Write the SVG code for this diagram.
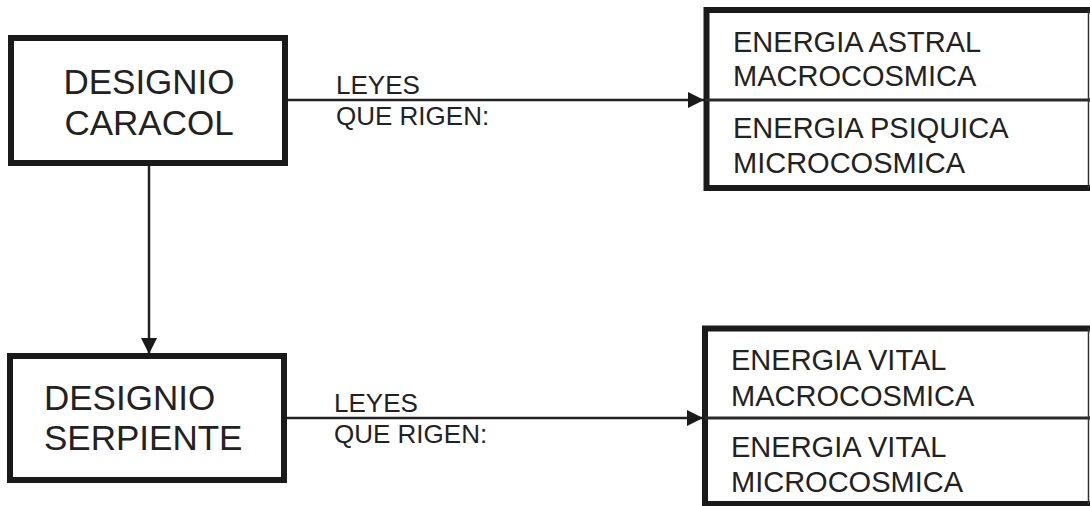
<svg xmlns="http://www.w3.org/2000/svg" width="1090" height="506" viewBox="0 0 1090 506">
<style>
.box{fill:#fff;stroke:#1a1a1a;stroke-width:6}
.div{stroke:#2a2a2a;stroke-width:3}
.edge{stroke:#333;stroke-width:1.5}
.conn{stroke:#222;stroke-width:2.5;fill:none}
.big{font-family:"Liberation Sans",Arial,sans-serif;font-size:35px;fill:#222}
.lbl{font-family:"Liberation Sans",Arial,sans-serif;font-size:26px;fill:#222}
.mid{font-family:"Liberation Sans",Arial,sans-serif;font-size:29px;fill:#222}
</style>
<defs>
<marker id="arr" markerUnits="userSpaceOnUse" markerWidth="16" markerHeight="16" refX="16" refY="8" orient="auto">
<path d="M0,0 L16,8 L0,16 Z" fill="#1a1a1a"/>
</marker>
</defs>
<rect width="1090" height="506" fill="#fff"/>
<g id="connectors">
<line class="conn" x1="288" y1="100" x2="704" y2="100" marker-end="url(#arr)"/>
<line class="conn" x1="287" y1="418" x2="703" y2="418" marker-end="url(#arr)"/>
<line class="conn" x1="149" y1="166" x2="149" y2="354" marker-end="url(#arr)"/>
<text class="lbl" x="336" y="94">LEYES</text>
<text class="lbl" x="336" y="125">QUE RIGEN:</text>
<text class="lbl" x="334" y="412">LEYES</text>
<text class="lbl" x="334" y="443">QUE RIGEN:</text>
</g>
<g id="designio-caracol">
<rect class="box" x="11" y="38" width="274" height="125"/>
<text class="big" x="149" y="94" text-anchor="middle">DESIGNIO</text>
<text class="big" x="149" y="135" text-anchor="middle">CARACOL</text>
</g>
<g id="designio-serpiente">
<rect class="box" x="10" y="356" width="274" height="124"/>
<text class="big" x="44" y="410">DESIGNIO</text>
<text class="big" x="44" y="450">SERPIENTE</text>
</g>
<g id="energia-astral-psiquica">
<rect class="box" x="706.5" y="10" width="400" height="178"/>
<line class="div" x1="706" y1="100" x2="1090" y2="100"/>
<line class="edge" x1="1088.5" y1="10" x2="1088.5" y2="188"/>
<text class="mid" x="733" y="52">ENERGIA ASTRAL</text>
<text class="mid" x="733" y="86">MACROCOSMICA</text>
<text class="mid" x="733" y="138">ENERGIA PSIQUICA</text>
<text class="mid" x="733" y="173">MICROCOSMICA</text>
</g>
<g id="energia-vital">
<rect class="box" x="705" y="328.5" width="400" height="175.5"/>
<line class="div" x1="705" y1="418" x2="1090" y2="418"/>
<line class="edge" x1="1088.5" y1="328" x2="1088.5" y2="504"/>
<text class="mid" x="731" y="370">ENERGIA VITAL</text>
<text class="mid" x="731" y="406">MACROCOSMICA</text>
<text class="mid" x="731" y="457">ENERGIA VITAL</text>
<text class="mid" x="731" y="492">MICROCOSMICA</text>
</g>
</svg>
